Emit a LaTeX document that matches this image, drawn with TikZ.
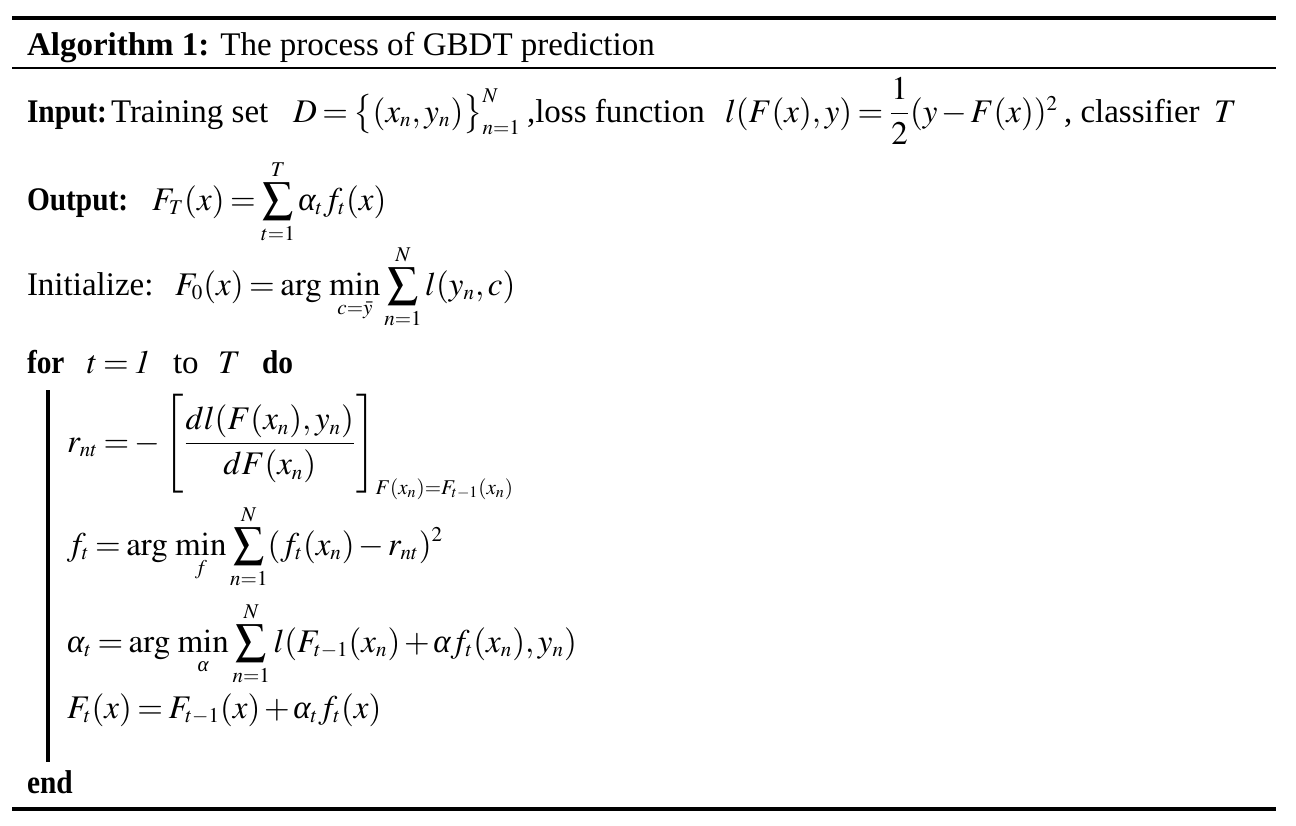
\documentclass[tikz,border=0pt]{standalone}
\usepackage{amsmath}
\usepackage{mathptmx}
\usepackage[no-math]{fontspec}
\setmainfont{Liberation Serif}
\newfontfamily\kwfont[FakeStretch=0.89]{Liberation Serif}
\DeclareMathSizes{16.5}{16.5}{10.5}{8}
\newcommand{\mysum}{\mathop{\vcenter{\hbox{\scalebox{0.92}{$\displaystyle\sum$}}}}\limits}
\newcommand{\amin}{\mathrm{arg}\,\min}
\newcommand{\ialpha}{\text{\normalfont\itshape α}}
\newcommand{\tightmath}{\thickmuskip=3mu plus 1mu\medmuskip=2mu plus 1mu}
\begin{document}
\begin{tikzpicture}[x=0.5pt,y=-0.5pt,
  txt/.style={anchor=base west,inner sep=0pt,outer sep=0pt,font=\fontsize{16.5}{20}\selectfont},
  kw/.style={txt,font=\fontsize{16.5}{20}\selectfont\kwfont\bfseries},
  mth/.style={txt,font=\fontsize{16.5}{20}\selectfont\tightmath},
  thickrule/.style={line width=2pt},
  thinrule/.style={line width=1pt},
  blockbar/.style={line width=1.6pt}]
\useasboundingbox (0,0) rectangle (1296,825);
\draw[thickrule] (12,18) -- (1276,18);
\draw[thinrule] (12,68) -- (1276,68);
\draw[thickrule] (12,809) -- (1276,809);
\node[txt] (title) at (27,55) {\textbf{Algorithm 1:} The process of GBDT prediction};
\node[kw] (in0) at (27,122) {Input:};
\node[txt] (in1) at (111,122) {Training set};
\node[mth] (in2) at (293,122) {$D=\bigl\{(x_n,y_n)\bigr\}_{n=1}^{N}$};
\node[txt] (in3) at (527,122) {,loss function};
\node[mth] (in4) at (725,122) {$l(F(x),y)=\dfrac{1}{2}(y-F(x))^2$};
\node[txt] (in5) at (1064,122) {, classifier};
\node[mth] (in6) at (1214,122) {$T$};
\node[kw] (out1) at (27,210) {Output:};
\node[mth] (out2) at (152,210) {$\displaystyle F_T(x)=\mysum_{t=1}^{T}\ialpha_t f_t(x)$};
\node[txt] (ini1) at (27,295) {Initialize:};
\node[mth] (ini2) at (175,295) {$\displaystyle F_0(x)=\amin_{c=\bar y}\mysum_{n=1}^{N} l(y_n,c)$};
\node[kw] (for1) at (27,373) {for};
\node[mth] (for2) at (87,373) {$t=\mathit{1}$};
\node[txt] (for3) at (173,373) {to};
\node[mth] (for4) at (218,373) {$T$};
\node[kw] (for5) at (262,373) {do};
\draw[blockbar] (48,390) -- (48,762);
\node[mth] (rnt) at (67,452) {$\displaystyle r_{nt}=-\left[\rule[-18pt]{0pt}{44pt}\frac{dl(F(x_n),y_n)}{dF(x_n)}\right]_{F(x_n)=F_{t-1}(x_n)}$};
\node[mth] (ft) at (67,555) {$\displaystyle f_t=\amin_{f}\mysum_{n=1}^{N}(f_t(x_n)-r_{nt})^2$};
\node[mth] (at) at (67,652) {$\displaystyle \ialpha_t=\amin_{\ialpha}\mysum_{n=1}^{N} l(F_{t-1}(x_n)+\ialpha f_t(x_n),y_n)$};
\node[mth] (Ft) at (67,718) {$F_t(x)=F_{t-1}(x)+\ialpha_t f_t(x)$};
\node[kw] (end) at (27,793) {end};
\end{tikzpicture}
\end{document}
